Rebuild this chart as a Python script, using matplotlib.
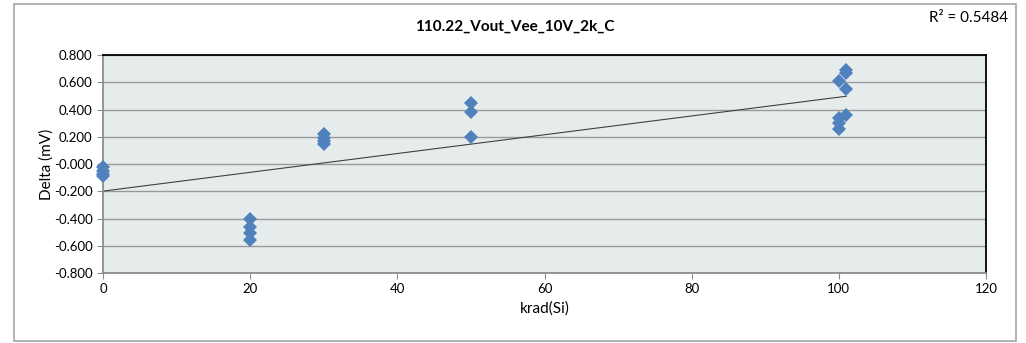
import numpy as np
import matplotlib.pyplot as plt
from matplotlib.patches import Rectangle

# datos
krad = [0, 0, 0, 0,
        20, 20, 20, 20,
        30, 30, 30, 30,
        50, 50, 50,
        100, 101, 101, 101, 101, 100, 100, 100]
delta = [-0.02, -0.05, -0.07, -0.09,
         -0.40, -0.46, -0.51, -0.56,
         0.22, 0.19, 0.17, 0.15,
         0.45, 0.38, 0.20,
         0.61, 0.69, 0.67, 0.55, 0.36, 0.34, 0.30, 0.26]
titulo = "110.22_Vout_Vee_10V_2k_C"
r2_texto = "R\u00b2 = 0.5484"
yticks = np.arange(-0.8, 0.81, 0.2)
xticks = np.arange(0, 121, 20)

plt.rcParams['font.family'] = ['Lato', 'DejaVu Sans']

fig = plt.figure(figsize=(10.26, 3.43), dpi=100)
W, H = 1026, 343

# marco exterior del grafico
fig.patches.append(Rectangle((14 / W, 1 - 341 / H), (1016 - 14) / W, (341 - 4) / H,
                             transform=fig.transFigure, fill=False,
                             edgecolor='#a6a6a6', linewidth=1.2))

ax = fig.add_axes([103 / W, 1 - 273 / H, (986 - 103) / W, (273 - 55) / H])
ax.set_facecolor('#e6ecec')

ax.set_xlim(0, 120)
ax.set_ylim(-0.8, 0.8)
ax.set_xticks(xticks)
ax.set_yticks(yticks)
ax.set_yticklabels(['%.3f' % v for v in yticks])
ax.grid(axis='y', color='#9a9a9a', linewidth=1.0)
ax.set_axisbelow(True)

for s in ['top', 'right']:
    ax.spines[s].set_color('black')
    ax.spines[s].set_linewidth(1.3)
for s in ['left', 'bottom']:
    ax.spines[s].set_color('#8c8c8c')
    ax.spines[s].set_linewidth(1.3)
ax.tick_params(axis='both', colors='#8c8c8c', labelcolor='black', labelsize=9.5,
               length=4, direction='out')

# linea de tendencia
m, b = np.polyfit(krad, delta, 1)
xs = np.array([0, max(krad)])
ax.plot(xs, m * xs + b, color='#404040', linewidth=0.8, zorder=2)

ax.plot(krad, delta, 'D', color='#4f81bd', markersize=7, markeredgewidth=0,
        zorder=3, clip_on=False)

ax.set_xlabel('krad(Si)', fontsize=11)
ax.set_ylabel('Delta (mV)', fontsize=11, labelpad=0)
fig.text(515 / W, 1 - 27 / H, titulo, ha='center', va='center',
         fontsize=11, fontweight='bold')
fig.text(1008 / W, 1 - 18 / H, r2_texto, ha='right', va='center', fontsize=11)

fig.savefig('out.png', dpi=100)
